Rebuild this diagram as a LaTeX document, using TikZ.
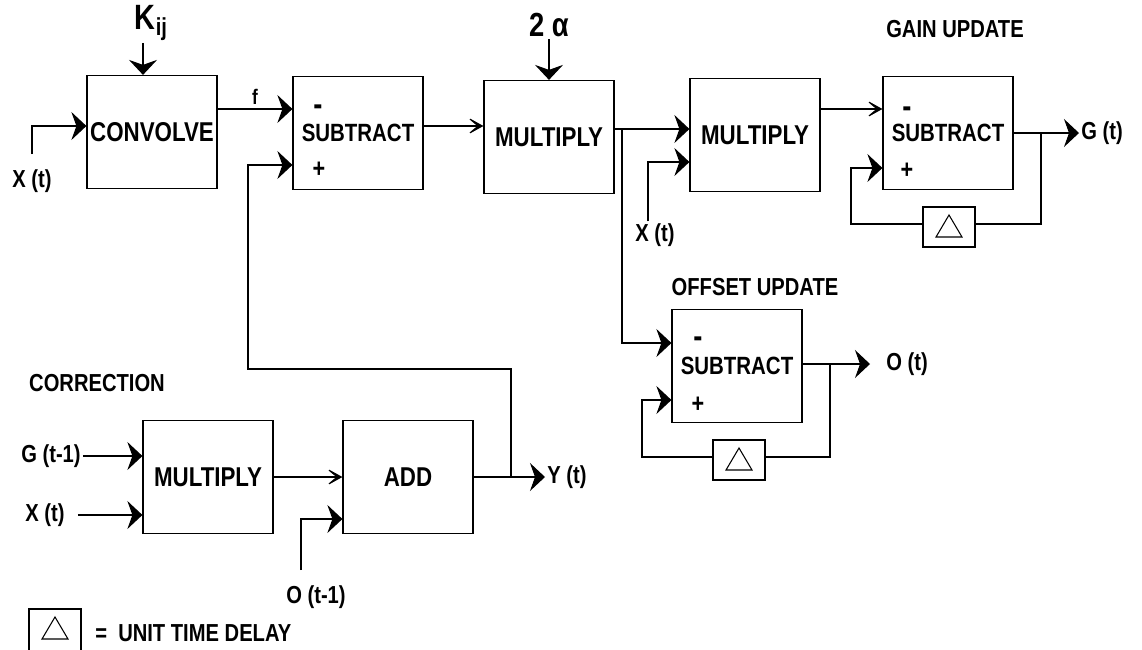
\documentclass[tikz,border=0pt]{standalone}
\usepackage{fontspec}
\setmainfont{Liberation Sans}[FakeStretch=0.82]
\usetikzlibrary{arrows.meta, positioning, calc}

\begin{document}
\begin{tikzpicture}[
    x=0.02cm, y=-0.02cm,
    line width=0.6pt,
    every node/.style={font=\fontsize{14}{16}\selectfont\bfseries, inner sep=1pt},
    block/.style={rectangle, draw=black, line width=0.7pt, minimum width=2.6cm, minimum height=2.26cm,
      font=\fontsize{15.5}{17}\selectfont\bfseries},
    subblock/.style={block, font=\fontsize{14.2}{16}\selectfont\bfseries},
    delaybox/.style={rectangle, draw=black, minimum width=1.04cm, minimum height=0.8cm,
      path picture={\draw ([shift={(-13,30)}]path picture bounding box.north) -- ++(26,0) -- ++(-13,-22) -- cycle;}},
    pmsign/.style={font=\fontsize{15}{16}\selectfont\bfseries},
    bigarrow/.style={-{Stealth[length=0.3cm, width=0.56cm, inset=0.1cm]}},
    thinarrow/.style={-{Stealth[length=0.36cm, width=0.4cm, inset=0.24cm]}}
  ]
  \useasboundingbox (0,0) rectangle (1142,649);

  % Main chain: convolve, subtract, multiply by 2 alpha
  \node[block] (conv) at (152,132) {CONVOLVE};
  \node[subblock] (sub1) at (358,133) {SUBTRACT};
  \node[block] (mul1) at (549,137) {MULTIPLY};
  \node[block] (mul2) at (755,135) {MULTIPLY};
  \node[subblock] (subg) at (948,133) {SUBTRACT};
  \node[subblock] (subo) at (737,366) {SUBTRACT};
  \node[block] (mul3) at (208,477) {MULTIPLY};
  \node[block] (add) at (408,477) {ADD};

  % Unit time delays
  \node[delaybox] (dg) at (949,227) {};
  \node[delaybox] (do) at (739,460) {};

  % Signs on the subtract blocks
  \node[pmsign, font=\fontsize{19}{19}\selectfont\bfseries] (m1) at (318,110) {-};
  \node[pmsign] (p1) at (319,170) {+};
  \node[pmsign, font=\fontsize{19}{19}\selectfont\bfseries] (mg) at (907,112) {-};
  \node[pmsign] (pg) at (907,171) {+};
  \node[pmsign, font=\fontsize{19}{19}\selectfont\bfseries] (mo) at (698,342) {-};
  \node[pmsign] (po) at (698,405) {+};

  % Headings
  \node (gainhd) at (955,29) {GAIN UPDATE};
  \node (offhd) at (755,287) {OFFSET UPDATE};
  \node (corrhd) at (97,383) {CORRECTION};

  % Inputs and outputs
  \node (xc) at (32,181) {X (t)};
  \node (kij) at (151,23) {{\fontsize{20}{20}\selectfont K}\raisebox{-0.45ex}{\fontsize{14}{14}\selectfont ij}};
  \node (alpha) at (549,25) {{\fontsize{19}{20}\selectfont 2 α}};
  \node (xm) at (655,235) {X (t)};
  \node[anchor=west] (gt) at (1079,133) {G (t)};
  \node[anchor=west] (ot) at (884,364) {O (t)};
  \node (gl) at (51,456) {G (t-1)};
  \node (xl) at (45,515) {X (t)};
  \node (ol) at (316,597) {O (t-1)};
  \node[anchor=west] (yt) at (545,477) {Y (t)};

  % Legend
  \node[delaybox, minimum height=0.88cm] (lg) at (55,631) {};
  \node[anchor=west] (lgtxt) at (93,633) {=\ \ UNIT TIME DELAY};

  % Junctions and free ends
  \coordinate (xcs) at (32,154);
  \coordinate (yj) at (511,477);
  \coordinate (mj) at (622,129);
  \coordinate (gj) at (1041,133);
  \coordinate (oj) at (830,364);
  \coordinate (ols) at (301,570);

  % Upper row
  \draw[bigarrow] (xcs) |- (conv.west |- 0,126);
  \draw[bigarrow] (kij.south -| 143,0) -- (conv.north -| 143,0);
  \draw[bigarrow] (conv.east |- 0,109) -- node[above=1pt, font=\fontsize{12}{13}\selectfont\bfseries] (flbl) {f} (sub1.west |- 0,109);
  \draw[thinarrow] (sub1.east |- 0,126) -- (mul1.west |- 0,126);
  \draw[bigarrow] (alpha.south) -- (mul1.north);
  \draw[bigarrow] (mul1.east |- 0,129) -- (mul2.west |- 0,129);
  \draw[bigarrow] (xm.north -| 648,0) |- (mul2.west |- 0,162);
  \draw[thinarrow] (mul2.east |- 0,109) -- (subg.west |- 0,109);

  % Gain update loop
  \draw[bigarrow] (subg.east |- gt) -- (gt.west);
  \draw (gj) |- (dg.east |- 0,224);
  \draw[bigarrow] (dg.west |- 0,224) -| (851,168) -- (subg.west |- 0,168);

  % Offset update loop
  \draw[bigarrow] (mj) |- (subo.west |- 0,343);
  \draw[bigarrow] (subo.east |- ot) -- ([xshift=-0.28cm]ot.west);
  \draw (oj) |- (do.east |- 0,457);
  \draw[bigarrow] (do.west |- 0,457) -| (642,400) -- (subo.west |- 0,400);

  % Correction
  \draw[bigarrow] (gl.east) -- (mul3.west |- gl);
  \draw[bigarrow] ([xshift=0.22cm]xl.east) -- (mul3.west |- xl);
  \draw[thinarrow] (mul3.east) -- (add.west |- mul3.east);
  \draw[bigarrow] (ols) |- (add.west |- 0,519);
  \draw[bigarrow] (add.east) -- (yt.west);
  \draw[bigarrow] (yj) -- (511,369) -| (248,165) -- (sub1.west |- 0,165);
\end{tikzpicture}
\end{document}
